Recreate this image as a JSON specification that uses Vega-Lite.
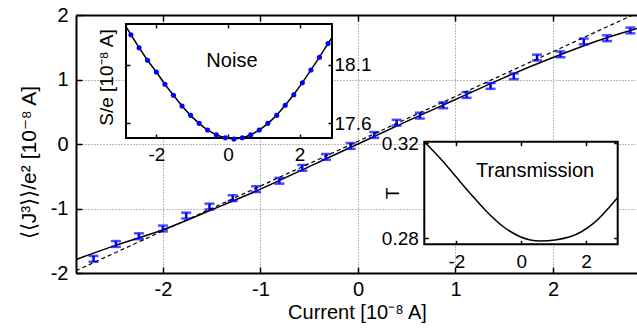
{
  "$schema": "https://vega.github.io/schema/vega-lite/v6.json",
  "width": 561,
  "height": 258,
  "autosize": "none",
  "padding": {"left": 76, "top": 15, "right": 0, "bottom": 58},
  "background": "white",
  "config": {
    "view": {"stroke": null},
    "font": "Liberation Sans",
    "locale": {"number": {"decimal": ".", "thousands": ",", "grouping": [3], "currency": ["$", ""], "minus": "-"}},
    "axis": {
      "domainColor": "black", "domainWidth": 2, "tickColor": "black", "tickWidth": 1.5,
      "labelColor": "black", "titleColor": "black", "labelFont": "Liberation Sans", "titleFont": "Liberation Sans",
      "titleFontWeight": "normal", "labelFontSize": 20, "titleFontSize": 21,
      "gridColor": "#777", "gridDash": [1, 2], "gridWidth": 1, "labelFlush": false, "labelOverlap": false
    }
  },
  "datasets": {
    "obs": [
      {"I": -2.712, "J3": -1.78, "S": 18.361, "e": 0.045},
      {"I": -2.483, "J3": -1.55, "S": 18.249, "e": 0.045},
      {"I": -2.247, "J3": -1.43, "S": 18.141, "e": 0.045},
      {"I": -2.001, "J3": -1.31, "S": 18.040, "e": 0.045},
      {"I": -1.762, "J3": -1.11, "S": 17.934, "e": 0.045},
      {"I": -1.523, "J3": -0.97, "S": 17.839, "e": 0.045},
      {"I": -1.284, "J3": -0.84, "S": 17.747, "e": 0.045},
      {"I": -1.045, "J3": -0.70, "S": 17.666, "e": 0.045},
      {"I": -0.806, "J3": -0.57, "S": 17.597, "e": 0.045},
      {"I": -0.571, "J3": -0.37, "S": 17.540, "e": 0.045},
      {"I": -0.328, "J3": -0.20, "S": 17.499, "e": 0.045},
      {"I": -0.075, "J3": -0.03, "S": 17.473, "e": 0.045},
      {"I": 0.167, "J3": 0.14, "S": 17.462, "e": 0.045},
      {"I": 0.397, "J3": 0.33, "S": 17.473, "e": 0.045},
      {"I": 0.635, "J3": 0.44, "S": 17.499, "e": 0.045},
      {"I": 0.874, "J3": 0.60, "S": 17.540, "e": 0.045},
      {"I": 1.114, "J3": 0.76, "S": 17.597, "e": 0.045},
      {"I": 1.360, "J3": 0.90, "S": 17.666, "e": 0.045},
      {"I": 1.598, "J3": 1.05, "S": 17.753, "e": 0.045},
      {"I": 1.837, "J3": 1.34, "S": 17.844, "e": 0.045},
      {"I": 2.077, "J3": 1.39, "S": 17.947, "e": 0.045},
      {"I": 2.316, "J3": 1.59, "S": 18.057, "e": 0.045},
      {"I": 2.555, "J3": 1.64, "S": 18.166, "e": 0.045},
      {"I": 2.794, "J3": 1.76, "S": 18.284, "e": 0.045}
    ],
    "fit": [
      {"I": -2.892, "J3": -1.79}, {"I": -2.5, "J3": -1.58}, {"I": -2.0, "J3": -1.33},
      {"I": -1.5, "J3": -1.02}, {"I": -1.0, "J3": -0.70}, {"I": -0.5, "J3": -0.35},
      {"I": 0.0, "J3": 0.0}, {"I": 0.5, "J3": 0.35}, {"I": 1.0, "J3": 0.69},
      {"I": 1.5, "J3": 1.03}, {"I": 2.0, "J3": 1.34}, {"I": 2.5, "J3": 1.62}, {"I": 2.862, "J3": 1.79}
    ],
    "linear": [
      {"I": -2.892, "J3": -1.965}, {"I": 2.862, "J3": 2.03}
    ],
    "noisefit": [
      {"I": -2.849, "S": 18.43}, {"I": -2.712, "S": 18.361}, {"I": -2.483, "S": 18.249}, {"I": -2.247, "S": 18.141},
      {"I": -2.001, "S": 18.040}, {"I": -1.762, "S": 17.934}, {"I": -1.523, "S": 17.839}, {"I": -1.284, "S": 17.747},
      {"I": -1.045, "S": 17.666}, {"I": -0.806, "S": 17.597}, {"I": -0.571, "S": 17.540}, {"I": -0.328, "S": 17.499},
      {"I": -0.075, "S": 17.473}, {"I": 0.167, "S": 17.464}, {"I": 0.397, "S": 17.473}, {"I": 0.635, "S": 17.499},
      {"I": 0.874, "S": 17.540}, {"I": 1.114, "S": 17.597}, {"I": 1.360, "S": 17.668}, {"I": 1.598, "S": 17.753},
      {"I": 1.837, "S": 17.846}, {"I": 2.077, "S": 17.948}, {"I": 2.316, "S": 18.057}, {"I": 2.555, "S": 18.168},
      {"I": 2.794, "S": 18.284}, {"I": 2.905, "S": 18.336}
    ],
    "trans": [
      {"I": -2.99, "T": 0.3207}, {"I": -2.50, "T": 0.3137}, {"I": -2.01, "T": 0.3059},
      {"I": -1.57, "T": 0.2989}, {"I": -1.06, "T": 0.2912}, {"I": -0.55, "T": 0.2849},
      {"I": -0.03, "T": 0.2807}, {"I": 0.59, "T": 0.2789}, {"I": 1.51, "T": 0.2807},
      {"I": 2.23, "T": 0.2863}, {"I": 2.98, "T": 0.2972}
    ]
  },
  "layer": [
    {
      "layer": [
        {
          "data": {"name": "fit"},
          "mark": {"type": "line", "color": "black", "strokeWidth": 1.5, "interpolate": "monotone", "clip": true},
          "encoding": {
            "x": {"field": "I", "type": "quantitative", "title": "Current [10⁻⁸ A]", "scale": {"domain": [-2.892, 2.862], "nice": false, "zero": false},
              "axis": {"values": [-2, -1, 0, 1, 2], "format": "d", "grid": true, "tickSize": -6, "labelPadding": 12,
                "titleFontSize": 20, "titleX": 281, "titleY": 45, "titleBaseline": "alphabetic", "titleAnchor": "middle"}},
            "y": {"field": "J3", "type": "quantitative", "title": "⟨⟨J³⟩⟩/e² [10⁻⁸ A]", "scale": {"domain": [-2, 2], "nice": false, "zero": false},
              "axis": {"values": [-2, -1, 0, 1, 2], "format": "d", "grid": true, "tickSize": -6, "labelPadding": 14,
                "titleX": -41, "titleY": 147, "titleBaseline": "alphabetic", "titleAlign": "center", "titleAngle": 270}}
          }
        },
        {
          "data": {"name": "obs"},
          "mark": {"type": "errorbar", "color": "#0000ff", "ticks": true, "size": 10, "thickness": 2.5},
          "encoding": {
            "x": {"field": "I", "type": "quantitative", "title": "Current [10⁻⁸ A]"},
            "y": {"field": "J3", "type": "quantitative", "title": "⟨⟨J³⟩⟩/e² [10⁻⁸ A]"},
            "yError": {"field": "e"}
          }
        }
      ]
    },
    {
      "data": {"name": "linear"},
      "mark": {"type": "line", "color": "black", "strokeWidth": 1.2, "strokeDash": [4, 3], "clip": true},
      "encoding": {
        "x": {"field": "I", "type": "quantitative", "scale": {"domain": [-2.892, 2.862], "nice": false, "zero": false},
          "axis": {"orient": "top", "labels": false, "title": null, "grid": false, "tickSize": -6, "values": [-2, -1, 0, 1, 2], "domain": true, "zindex": 1}},
        "y": {"field": "J3", "type": "quantitative", "scale": {"domain": [-2, 2], "nice": false, "zero": false}, "axis": null}
      }
    },
    {
      "data": {"values": [{}]},
      "mark": {"type": "rect", "fill": "white", "stroke": "black", "strokeWidth": 2},
      "encoding": {
        "x": {"datum": -2.849, "type": "quantitative", "scale": {"domain": [-2.849, 2.905], "range": [50, 256], "nice": false, "zero": false},
          "axis": {"orient": "top", "offset": -9, "labels": false, "title": null, "grid": false, "domain": false, "tickSize": -4, "values": [-2, 0, 2], "zindex": 1}},
        "x2": {"datum": 2.905},
        "y": {"datum": 17.471, "type": "quantitative", "scale": {"domain": [17.471, 18.453], "range": [123, 9], "nice": false, "zero": false},
          "axis": {"orient": "left", "offset": -50, "labels": false, "grid": false, "domain": false, "tickSize": -4, "values": [17.6, 18.1], "zindex": 1,
            "title": "S/e [10⁻⁸ A]", "titleFontSize": 19, "titleX": -14, "titleY": 62, "titleBaseline": "alphabetic", "titleAlign": "center", "titleAngle": 270}},
        "y2": {"datum": 18.453}
      }
    },
    {
      "layer": [
        {
          "data": {"name": "noisefit"},
          "mark": {"type": "line", "color": "black", "strokeWidth": 1.5, "interpolate": "monotone"},
          "encoding": {
            "x": {"field": "I", "type": "quantitative", "scale": {"domain": [-2.849, 2.905], "range": [50, 256], "nice": false, "zero": false},
              "axis": {"orient": "bottom", "offset": -135, "values": [-2, 0, 2], "format": "d", "tickSize": -4, "labelPadding": 11, "domain": false, "title": null, "grid": false, "zindex": 1, "labelFontSize": 19}},
            "y": {"field": "S", "type": "quantitative", "scale": {"domain": [17.471, 18.453], "range": [123, 9], "nice": false, "zero": false},
              "axis": {"orient": "right", "offset": -305, "values": [17.6, 18.1], "format": ".1f", "tickSize": -4, "labelPadding": 6, "domain": false, "title": null, "grid": false, "zindex": 1, "labelFontSize": 19}}
          }
        },
        {
          "data": {"name": "obs"},
          "mark": {"type": "circle", "color": "#0000ff", "size": 26, "opacity": 1},
          "encoding": {
            "x": {"field": "I", "type": "quantitative"},
            "y": {"field": "S", "type": "quantitative"}
          }
        },
        {
          "data": {"values": [{}]},
          "mark": {"type": "text", "text": "Noise", "fontSize": 20, "font": "Liberation Sans", "align": "center", "baseline": "alphabetic", "color": "black"},
          "encoding": {
            "x": {"datum": 0.11, "type": "quantitative"},
            "y": {"datum": 18.083, "type": "quantitative"}
          }
        }
      ]
    },
    {
      "data": {"values": [{}]},
      "mark": {"type": "rect", "fill": "white", "stroke": "black", "strokeWidth": 2},
      "encoding": {
        "x": {"datum": -2.99, "type": "quantitative", "scale": {"domain": [-2.99, 2.98], "range": [348.3, 541.7], "nice": false, "zero": false},
          "axis": {"orient": "top", "offset": -126.7, "labels": false, "title": null, "grid": false, "domain": false, "tickSize": -4, "values": [-2, 0, 2], "zindex": 1}},
        "x2": {"datum": 2.98},
        "y": {"datum": 0.2775, "type": "quantitative", "scale": {"domain": [0.2775, 0.3207], "range": [229.3, 126.7], "nice": false, "zero": false},
          "axis": {"orient": "right", "offset": -19.3, "labels": false, "title": null, "grid": false, "domain": false, "tickSize": -4, "values": [0.28, 0.32], "zindex": 1}},
        "y2": {"datum": 0.3207}
      }
    },
    {
      "layer": [
        {
          "data": {"name": "trans"},
          "mark": {"type": "line", "color": "black", "strokeWidth": 1.5, "interpolate": "monotone"},
          "encoding": {
            "x": {"field": "I", "type": "quantitative", "scale": {"domain": [-2.99, 2.98], "range": [348.3, 541.7], "nice": false, "zero": false},
              "axis": {"orient": "bottom", "offset": -28.7, "values": [-2, 0, 2], "format": "d", "tickSize": -4, "labelPadding": 12, "domain": false, "title": null, "grid": false, "zindex": 1, "labelFontSize": 19}},
            "y": {"field": "T", "type": "quantitative", "scale": {"domain": [0.2775, 0.3207], "range": [229.3, 126.7], "nice": false, "zero": false},
              "axis": {"orient": "left", "offset": -348.3, "values": [0.28, 0.32], "format": ".2f", "tickSize": -4, "labelPadding": 10, "domain": false, "grid": false, "zindex": 1, "labelFontSize": 19,
                "title": "T", "titleFontSize": 19, "titleX": -32, "titleY": 178, "titleBaseline": "middle", "titleAlign": "center", "titleAngle": 270}}
          }
        },
        {
          "data": {"values": [{}]},
          "mark": {"type": "text", "text": "Transmission", "fontSize": 20, "font": "Liberation Sans", "align": "center", "baseline": "alphabetic", "color": "black"},
          "encoding": {
            "x": {"datum": 0.43, "type": "quantitative"},
            "y": {"datum": 0.3059, "type": "quantitative"}
          }
        }
      ]
    }
  ],
  "resolve": {"scale": {"x": "independent", "y": "independent"}}
}
